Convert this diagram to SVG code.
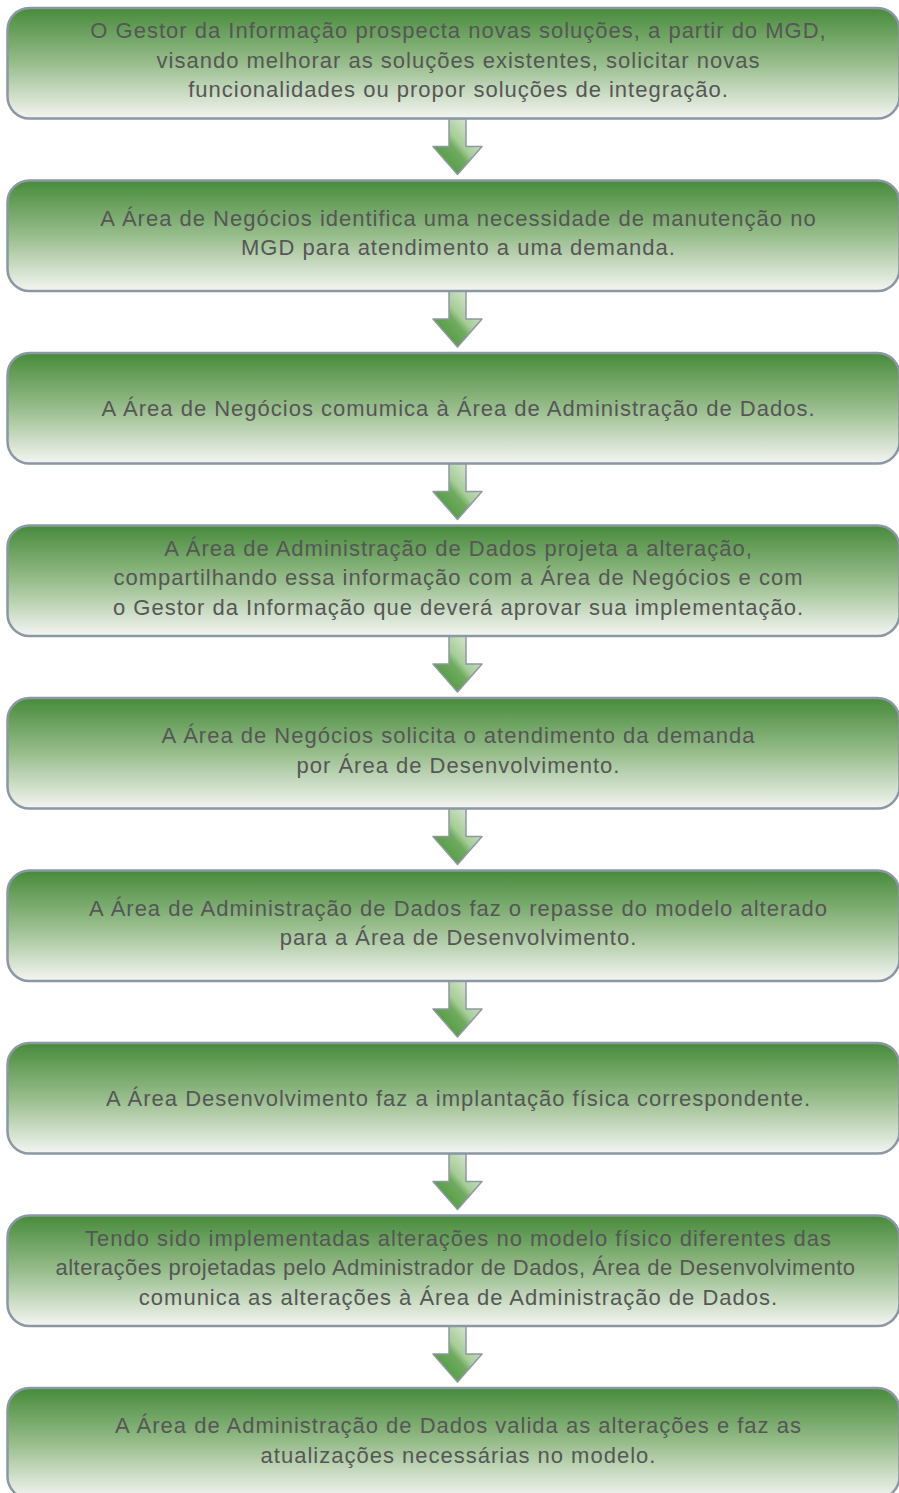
<svg xmlns="http://www.w3.org/2000/svg" width="899" height="1493" viewBox="0 0 899 1493">
<defs>
<linearGradient id="boxg" x1="0" y1="0" x2="0" y2="1">
<stop offset="0" stop-color="#478b3b"/>
<stop offset="0.5" stop-color="#98bd8c"/>
<stop offset="1" stop-color="#f4f5f2"/>
</linearGradient>
<linearGradient id="arrg" x1="0" y1="1" x2="1" y2="0">
<stop offset="0" stop-color="#3f8f30"/>
<stop offset="0.45" stop-color="#6fab5f"/>
<stop offset="0.55" stop-color="#a6cc98"/>
<stop offset="1" stop-color="#eef5ea"/>
</linearGradient>
<path id="arr" d="M449,0 L466,0 L466,28 L482,28 L457.5,56 L433,28 L449,28 Z"/>
</defs>
<style>
.box{fill:url(#boxg);stroke:#8b97a4;stroke-width:2.5}
.t{font-family:"Liberation Sans",Arial,sans-serif;font-size:22px;letter-spacing:1px;fill:#565656;text-anchor:middle}
.a{fill:url(#arrg);stroke:#8f98a2;stroke-width:1.5;stroke-linejoin:round}
</style>
<g id="connectors">
<use href="#arr" class="a" y="118.5"/>
<use href="#arr" class="a" y="291"/>
<use href="#arr" class="a" y="463.5"/>
<use href="#arr" class="a" y="636"/>
<use href="#arr" class="a" y="808.5"/>
<use href="#arr" class="a" y="981"/>
<use href="#arr" class="a" y="1153.5"/>
<use href="#arr" class="a" y="1326"/>
</g>
<g id="n1">
<rect class="box" x="7.5" y="8" width="892" height="110.5" rx="22"/>
<text class="t" x="458.5" y="38">O Gestor da Informação prospecta novas soluções, a partir do MGD,</text>
<text class="t" x="458.5" y="67.5">visando melhorar as soluções existentes, solicitar novas</text>
<text class="t" x="458.5" y="97">funcionalidades ou propor soluções de integração.</text>
</g>
<g id="n2">
<rect class="box" x="7.5" y="180.5" width="892" height="110.5" rx="22"/>
<text class="t" x="458.5" y="225.5">A Área de Negócios identifica uma necessidade de manutenção no</text>
<text class="t" x="458.5" y="255">MGD para atendimento a uma demanda.</text>
</g>
<g id="n3">
<rect class="box" x="7.5" y="353" width="892" height="110.5" rx="22"/>
<text class="t" x="458.5" y="415.5">A Área de Negócios comumica à Área de Administração de Dados.</text>
</g>
<g id="n4">
<rect class="box" x="7.5" y="525.5" width="892" height="110.5" rx="22"/>
<text class="t" x="458.5" y="555.5">A Área de Administração de Dados projeta a alteração,</text>
<text class="t" x="458.5" y="585">compartilhando essa informação com a Área de Negócios e com</text>
<text class="t" x="458.5" y="614.5">o Gestor da Informação que deverá aprovar sua implementação.</text>
</g>
<g id="n5">
<rect class="box" x="7.5" y="698" width="892" height="110.5" rx="22"/>
<text class="t" x="458.5" y="743">A Área de Negócios solicita o atendimento da demanda</text>
<text class="t" x="458.5" y="772.5">por Área de Desenvolvimento.</text>
</g>
<g id="n6">
<rect class="box" x="7.5" y="870.5" width="892" height="110.5" rx="22"/>
<text class="t" x="458.5" y="915.5">A Área de Administração de Dados faz o repasse do modelo alterado</text>
<text class="t" x="458.5" y="945">para a Área de Desenvolvimento.</text>
</g>
<g id="n7">
<rect class="box" x="7.5" y="1043" width="892" height="110.5" rx="22"/>
<text class="t" x="458.5" y="1105.5">A Área Desenvolvimento faz a implantação física correspondente.</text>
</g>
<g id="n8">
<rect class="box" x="7.5" y="1215.5" width="892" height="110.5" rx="22"/>
<text class="t" x="458.5" y="1245.5">Tendo sido implementadas alterações no modelo físico diferentes das</text>
<text class="t" x="455.5" y="1275" style="letter-spacing:0.5px">alterações projetadas pelo Administrador de Dados, Área de Desenvolvimento</text>
<text class="t" x="458.5" y="1304.5">comunica as alterações à Área de Administração de Dados.</text>
</g>
<g id="n9">
<rect class="box" x="7.5" y="1388" width="892" height="110.5" rx="22"/>
<text class="t" x="458.5" y="1433">A Área de Administração de Dados valida as alterações e faz as</text>
<text class="t" x="458.5" y="1462.5">atualizações necessárias no modelo.</text>
</g>
</svg>
